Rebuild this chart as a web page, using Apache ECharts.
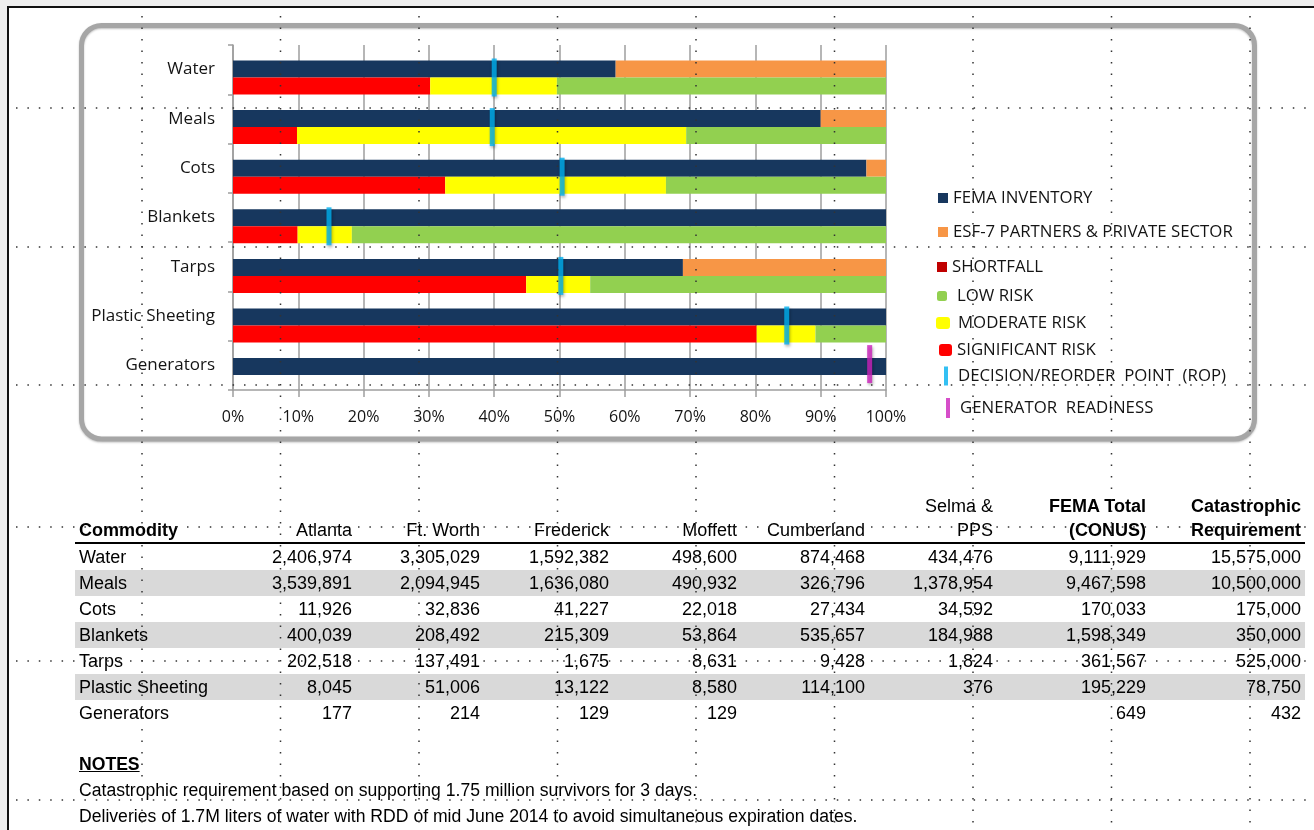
<!DOCTYPE html>
<html>
<head>
<meta charset="utf-8">
<script src="https://cdn.jsdelivr.net/npm/echarts@6/dist/echarts.min.js"></script>
<style>
  html, body { margin: 0; padding: 0; }
  body { width: 1314px; height: 830px; position: relative; overflow: hidden; background: #eeeeee;
         font-family: "Liberation Sans", Arial, sans-serif; }
  #sheet { position: absolute; left: 7px; top: 6px; right: 0; bottom: 0; background: #fff;
           border-top: 2px solid #111; border-left: 2px solid #111; }
  #chart { position: absolute; left: 0; top: 0; width: 1314px; height: 830px; }
  #tbl { position: absolute; left: 75px; top: 494px; width: 1230px; border-collapse: collapse;
         table-layout: fixed; font-size: 18px; color: #000; }
  #tbl th, #tbl td { padding: 0 4px 0 0; text-align: right; white-space: nowrap; }
  #tbl th { font-weight: normal; line-height: 24px; vertical-align: bottom; height: 48px;
            border-bottom: 2px solid #000; }
  #tbl th.b { font-weight: bold; }
  #tbl th:first-child, #tbl td:first-child { text-align: left; padding-left: 4px; }
  #tbl td { height: 26px; line-height: 26px; }
  #tbl tr.grey td { background: #d9d9d9; }
  #notes { position: absolute; left: 79px; top: 751px; font-size: 17.6px; line-height: 26px; color: #000; }
  #notes .h { font-weight: bold; text-decoration: underline; }
  #dots { position: absolute; left: 0; top: 0; pointer-events: none; }
</style>
</head>
<body>
<div id="sheet"></div>
<div id="chart"></div>
<table id="tbl"></table>
<div id="notes">
  <div class="h">NOTES</div>
  <div>Catastrophic requirement based on supporting 1.75 million survivors for 3 days.</div>
  <div>Deliveries of 1.7M liters of water with RDD of mid June 2014 to avoid simultaneous expiration dates.</div>
</div>
<svg id="dots" width="1314" height="830"></svg>
<script>
// chart data (percent of requirement)
var categories = ['Water', 'Meals', 'Cots', 'Blankets', 'Tarps', 'Plastic Sheeting', 'Generators'];
var femaInventory = [58.6, 90.0, 97.0, 100, 68.9, 100, 100];
var esfPartners = [41.4, 10.0, 3.0, 0, 31.1, 0, 0];
var significantRisk = [30.2, 9.8, 32.5, 9.9, 44.9, 80.2, null];
var moderateRisk = [19.4, 59.6, 33.8, 8.3, 9.8, 9.0, null];
var lowRisk = [50.4, 30.6, 33.7, 81.8, 45.3, 10.8, null];
var reorderPoint = [40.0, 39.7, 50.4, 14.7, 50.2, 84.8, null];
var generatorReadiness = [null, null, null, null, null, null, 97.5];

// table data
var tableHead = ['Commodity', 'Atlanta', 'Ft. Worth', 'Frederick', 'Moffett', 'Cumberland', 'Selma &<br>PPS', 'FEMA Total<br>(CONUS)', 'Catastrophic<br>Requirement'];
var atlanta = [2406974, 3539891, 11926, 400039, 202518, 8045, 177];
var ftWorth = [3305029, 2094945, 32836, 208492, 137491, 51006, 214];
var frederick = [1592382, 1636080, 41227, 215309, 1675, 13122, 129];
var moffett = [498600, 490932, 22018, 53864, 8631, 8580, 129];
var cumberland = [874468, 326796, 27434, 535657, 9428, 114100, null];
var selma = [434476, 1378954, 34592, 184988, 1824, 376, null];
var femaTotal = [9111929, 9467598, 170033, 1598349, 361567, 195229, 649];
var catastrophicReq = [15575000, 10500000, 175000, 350000, 525000, 78750, 432];

// ---- table
var colW = [153, 128, 128, 129, 128, 128, 128, 153, 155];
var boldHead = [0, 7, 8];
var html = '<colgroup>' + colW.map(function (w) { return '<col style="width:' + w + 'px">'; }).join('') + '</colgroup>';
html += '<tr>' + tableHead.map(function (h, i) {
  return '<th' + (boldHead.indexOf(i) >= 0 ? ' class="b"' : '') + '>' + h + '</th>';
}).join('') + '</tr>';
var cols = [atlanta, ftWorth, frederick, moffett, cumberland, selma, femaTotal, catastrophicReq];
categories.forEach(function (c, r) {
  html += '<tr' + (r % 2 === 1 ? ' class="grey"' : '') + '><td>' + c + '</td>';
  cols.forEach(function (col) {
    html += '<td>' + (col[r] == null ? '' : col[r].toLocaleString('en-US')) + '</td>';
  });
  html += '</tr>';
});
document.getElementById('tbl').innerHTML = html;

// ---- spreadsheet dotted grid
var svg = '';
[108, 247, 385, 527, 661, 800].forEach(function (y) {
  svg += '<line x1="16" y1="' + y + '" x2="1314" y2="' + y + '" stroke="#333" stroke-width="1.5" stroke-dasharray="1.5 9.9"/>';
});
[142, 280.5, 419, 557.5, 696, 834.5, 973, 1111.5, 1250].forEach(function (x) {
  svg += '<line x1="' + x + '" y1="16" x2="' + x + '" y2="830" stroke="#333" stroke-width="1.5" stroke-dasharray="1.5 10"/>';
});
document.getElementById('dots').innerHTML = svg;

// ---- chart
var myChart = echarts.init(document.getElementById('chart'));
var fontF = '"Open Sans", sans-serif';
var C = {
  fema: '#17375E', esf: '#F79646', short: '#C00000', low: '#92D050',
  mod: '#FFFF00', sig: '#FF0000', rop: '#00B0F0', gen: '#CC22BB'
};

function pts(arr) {
  var out = [];
  arr.forEach(function (v, i) { if (v != null) out.push([v, categories[i]]); });
  return out;
}

var markShadow = { shadowColor: 'rgba(0,0,0,0.35)', shadowBlur: 3, shadowOffsetX: 1, shadowOffsetY: 2 };

function lg(name, left, cy, w, h, icon, pad) {
  return {
    data: [{ name: name, icon: icon }],
    left: left, top: cy - Math.max(h, 17) / 2, padding: 0,
    itemWidth: w, itemHeight: h, orient: 'vertical',
    textStyle: { fontFamily: fontF, fontSize: 16.8, color: '#141414', padding: [0, 0, 0, pad] }
  };
}

var option = {
  backgroundColor: 'transparent',
  animation: false,
  graphic: [{
    type: 'rect', silent: true, z: -1,
    shape: { x: 81.5, y: 25.5, width: 1173, height: 413.5, r: 20 },
    style: { fill: 'none', stroke: '#a6a6a6', lineWidth: 5,
             shadowBlur: 2, shadowColor: 'rgba(0,0,0,0.25)', shadowOffsetY: 1 }
  }],
  legend: [
    lg('FEMA INVENTORY', 938, 198, 10, 10, 'rect', 0),
    lg('ESF-7 PARTNERS & PRIVATE SECTOR', 938, 232, 10, 10, 'rect', 0),
    lg('SHORTFALL', 937, 267, 10, 10, 'rect', 0),
    lg('LOW RISK', 937, 296, 10, 10, 'roundRect', 5),
    lg('MODERATE RISK', 936, 323, 14, 12, 'roundRect', 3),
    lg('SIGNIFICANT RISK', 939, 350, 13, 12, 'roundRect', 0),
    lg('DECISION/REORDER  POINT  (ROP)', 944, 376, 4, 19, 'rect', 5),
    lg('GENERATOR  READINESS', 946, 408, 4, 20, 'rect', 5)
  ],
  grid: [
    { left: 233, top: 45, width: 653, height: 345 },
    { left: 233, top: 52.7, width: 653, height: 347.2 }
  ],
  xAxis: [
    {
      type: 'value', gridIndex: 0, min: 0, max: 100, interval: 10,
      axisLine: { show: true, lineStyle: { color: '#9e9e9e', width: 1.5 } },
      axisTick: { show: true, length: 7, lineStyle: { color: '#9e9e9e', width: 1.5 } },
      splitLine: { show: true, lineStyle: { color: '#9e9e9e', width: 1.5 } },
      axisLabel: { formatter: '{value}%', margin: 19, fontFamily: fontF, fontSize: 16, color: '#141414' }
    },
    { type: 'value', gridIndex: 1, min: 0, max: 100, show: false }
  ],
  yAxis: [
    {
      type: 'category', gridIndex: 0, data: categories, inverse: true,
      axisLine: { show: true, lineStyle: { color: '#9e9e9e', width: 1.5 } },
      axisTick: { show: true, length: 5, lineStyle: { color: '#9e9e9e', width: 1.5 } },
      axisLabel: { margin: 18, padding: [4, 0, 0, 0], fontFamily: fontF, fontSize: 17, color: '#141414' }
    },
    { type: 'category', gridIndex: 1, data: categories, inverse: true, show: false }
  ],
  series: [
    { name: 'FEMA INVENTORY', type: 'bar', stack: 'inv', xAxisIndex: 1, yAxisIndex: 1,
      barWidth: 17, barGap: '0%', data: femaInventory, itemStyle: { color: C.fema } },
    { name: 'ESF-7 PARTNERS & PRIVATE SECTOR', type: 'bar', stack: 'inv', xAxisIndex: 1, yAxisIndex: 1,
      barWidth: 17, barGap: '0%', data: esfPartners, itemStyle: { color: C.esf } },
    { name: 'SIGNIFICANT RISK', type: 'bar', stack: 'risk', xAxisIndex: 1, yAxisIndex: 1,
      barWidth: 17, barGap: '0%', data: significantRisk, itemStyle: { color: C.sig } },
    { name: 'MODERATE RISK', type: 'bar', stack: 'risk', xAxisIndex: 1, yAxisIndex: 1,
      barWidth: 17, barGap: '0%', data: moderateRisk, itemStyle: { color: C.mod } },
    { name: 'LOW RISK', type: 'bar', stack: 'risk', xAxisIndex: 1, yAxisIndex: 1,
      barWidth: 17, barGap: '0%', data: lowRisk, itemStyle: { color: C.low } },
    { name: 'SHORTFALL', type: 'bar', stack: 'risk', xAxisIndex: 1, yAxisIndex: 1,
      barWidth: 17, barGap: '0%', data: [], itemStyle: { color: C.short } },
    { name: 'DECISION/REORDER  POINT  (ROP)', type: 'scatter', xAxisIndex: 1, yAxisIndex: 1, z: 5,
      symbol: 'rect', symbolSize: [5, 38], data: pts(reorderPoint),
      itemStyle: Object.assign({ color: C.rop }, markShadow), emphasis: { scale: false } },
    { name: 'GENERATOR  READINESS', type: 'scatter', xAxisIndex: 1, yAxisIndex: 1, z: 5,
      symbol: 'rect', symbolSize: [5, 38], symbolOffset: [0, -11], data: pts(generatorReadiness),
      itemStyle: Object.assign({ color: C.gen }, markShadow), emphasis: { scale: false } }
  ]
};
myChart.setOption(option);
</script>
</body>
</html>
